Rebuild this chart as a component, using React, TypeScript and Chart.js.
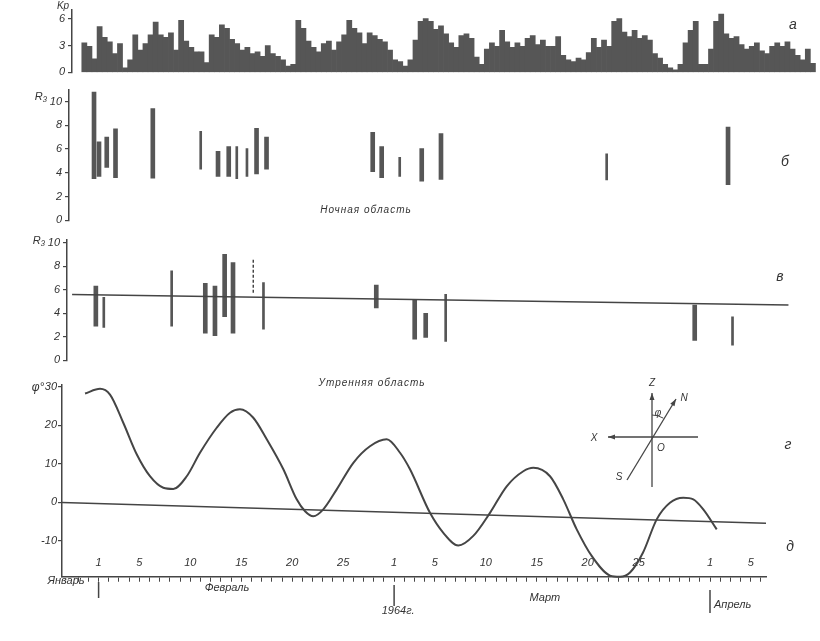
import React, { useEffect, useRef } from "react";
import { Chart, registerables } from "chart.js";

Chart.register(...registerables);

// ---------------- data ----------------
// day index: 0 = 1 February 1964
const kpStartDay = -1.4;
const kpStepDays = 0.5;
const kpValues = [
  3.3, 2.9, 1.5, 5.1, 3.9, 3.4, 2.1, 3.2, 0.5, 1.4,
  4.2, 2.5, 3.2, 4.2, 5.6, 4.2, 3.9, 4.4, 2.5, 5.8,
  3.5, 2.8, 2.3, 2.3, 1.1, 4.2, 3.9, 5.3, 4.9, 3.7,
  3.2, 2.5, 2.8, 2.1, 2.3, 1.8, 3.0, 2.1, 1.8, 1.4,
  0.7, 0.9, 5.8, 4.9, 3.5, 2.8, 2.3, 3.2, 3.5, 2.5,
  3.4, 4.2, 5.8, 4.9, 4.4, 3.2, 4.4, 4.1, 3.7, 3.4,
  2.5, 1.4, 1.2, 0.7,
  1.4, 3.6, 5.7, 6.0, 5.7, 4.8, 5.2, 4.3, 3.3, 2.8,
  4.1, 4.3, 3.8, 1.7, 0.9, 2.6, 3.3, 2.9, 4.7, 3.4,
  2.8, 3.3, 2.9, 3.8, 4.1, 3.1, 3.6, 2.9, 2.9, 4.0,
  1.9, 1.4, 1.2, 1.6, 1.4, 2.2, 3.8, 2.8, 3.6, 2.9,
  5.7, 6.0, 4.5, 4.0, 4.7, 3.8, 4.1, 3.6, 2.1, 1.6,
  0.9, 0.5, 0.3, 0.9, 3.3, 4.7, 5.7, 0.9, 0.9, 2.6,
  5.7, 6.5, 4.3, 3.8, 4.0, 3.1, 2.6, 2.9, 3.3, 2.4,
  2.1, 2.9, 3.3, 2.9, 3.4, 2.6, 1.9, 1.4, 2.6, 1.0,
];

// panel б — night region (R3 ranges)
const nightWideDays = [-0.45, 0.04, 0.8, 1.66, 5.32, 11.72, 12.77, 15.5, 16.48, 26.9, 27.78, 31.71, 33.6, 61.77];
const nightWideLow = [3.5, 3.7, 4.45, 3.6, 3.55, 3.7, 3.7, 3.9, 4.3, 4.1, 3.6, 3.3, 3.45, 3.0];
const nightWideHigh = [10.8, 6.6, 7.0, 7.7, 9.4, 5.8, 6.2, 7.75, 7.0, 7.4, 6.2, 6.05, 7.3, 7.85];
const nightNarrowDays = [10.02, 13.56, 14.56, 29.55, 49.86];
const nightNarrowLow = [4.3, 3.5, 3.7, 3.7, 3.4];
const nightNarrowHigh = [7.5, 6.2, 6.05, 5.3, 5.6];

// panel в — morning region (R3 ranges)
const morningWideDays = [-0.27, 10.47, 11.42, 12.37, 13.19, 27.25, 31.02, 32.1, 58.5];
const morningWideLow = [2.9, 2.3, 2.1, 3.7, 2.3, 4.45, 1.8, 1.95, 1.7];
const morningWideHigh = [6.3, 6.55, 6.3, 9.0, 8.3, 6.4, 5.15, 4.0, 4.7];
const morningNarrowDays = [0.51, 7.17, 16.18, 34.06, 62.21];
const morningNarrowLow = [2.8, 2.9, 2.65, 1.6, 1.3];
const morningNarrowHigh = [5.35, 7.6, 6.6, 5.6, 3.7];
const morningDashedDays = [15.18, 15.18];
const morningDashedValues = [5.75, 8.6];
const morningBaseDays = [-2.6, 67.7];
const morningBaseValues = [5.6, 4.7];

// panel г — angle phi
const phiDays = [
  -1.33, 0.14, 1.12, 2.42, 3.74, 5.04, 6.35, 7.33, 8.65, 9.95, 11.59, 12.9, 13.87, 15.18,
  16.5, 18.13, 19.44, 20.26, 21.07, 22.05, 23.37, 25, 26.63, 28.27, 29.58, 30.56, 32.52,
  33.83, 35.3, 36.77, 38.41, 40.05, 41.68, 42.66, 44.3, 45.6, 46.92, 48.39, 50.19, 51.17,
  52.15, 53.43, 54.77, 56.07, 57.38, 58.36, 59.34, 60.66,
];
const phiValues = [
  28.3, 29.5, 28, 20.7, 12.5, 6.8, 3.8, 3.5, 6.8, 12.9, 19.4, 23.3, 24.2, 22,
  16.4, 8.6, 0.8, -2.3, -3.6, -1.8, 3.4, 10.3, 14.6, 16.4, 12.9, 8.6, -2.7,
  -7.9, -11.2, -8.7, -2.7, 4.2, 8.1, 9.0, 6.8, 0.8, -7.0, -13.9, -19.0, -19.3,
  -18.2, -13, -4.4, -0.1, 1.2, 0.8, -1.8, -7,
];
const phiTrendDays = [-3.6, 65.5];
const phiTrendValues = [0, -5.4];

// axis ticks
const kpTicks = [0, 3, 6];
const r3Ticks = [0, 2, 4, 6, 8, 10];
const phiTicks = [-10, 0, 10, 20, 30];
const xTickDays = [0, 4, 9, 14, 19, 24, 29, 33, 38, 43, 48, 53, 60, 64];
const xTickLabels = ["1", "5", "10", "15", "20", "25", "1", "5", "10", "15", "20", "25", "1", "5"];
const xMinorFirstDay = -2;
const xMinorLastDay = 65;
const monthNames = ["Январь", "Февраль", "1964г.", "Март", "Апрель"];
const monthLabelDays = [-3.2, 12.6, 29.4, 43.8, 61.8];
const monthBoundaryDays = [0, 29, 60];

// ---------------- layout / style ----------------
const W = 820;
const DAY0_PX = 98.6;
const PX_PER_DAY = 10.19;
const dayAt = (px: number) => (px - DAY0_PX) / PX_PER_DAY;
const INK = "#454545";
const BAR = "#565656";
const FONT = "'Liberation Sans', 'DejaVu Sans', sans-serif";

type TextItem = { t: string; x: number; y: number; size?: number; align?: CanvasTextAlign; spacing?: number };

function textPlugin(panelTop: number, items: TextItem[], extra?: (ctx: CanvasRenderingContext2D, chart: any) => void) {
  return {
    id: "texts" + panelTop,
    afterDraw(chart: any) {
      const ctx: CanvasRenderingContext2D = chart.ctx;
      ctx.save();
      ctx.fillStyle = "#333";
      ctx.textBaseline = "middle";
      for (const it of items) {
        ctx.font = `italic ${it.size ?? 11}px ${FONT}`;
        ctx.textAlign = it.align ?? "center";
        (ctx as any).letterSpacing = `${it.spacing ?? 0}px`;
        ctx.fillText(it.t, it.x, it.y - panelTop);
      }
      (ctx as any).letterSpacing = "0px";
      if (extra) extra(ctx, chart);
      ctx.restore();
    },
  };
}

function yAxis(left: number, min: number, max: number, ticks: number[], pad = 2) {
  return {
    type: "linear",
    min,
    max,
    afterFit: (s: any) => {
      s.width = left;
    },
    afterBuildTicks: (s: any) => {
      s.ticks = ticks.map((v) => ({ value: v }));
    },
    grid: { drawOnChartArea: false, drawTicks: true, tickLength: 4, color: INK, lineWidth: 1.2 },
    border: { display: true, color: INK, width: 1.5 },
    ticks: { color: "#333", autoSkip: false, padding: pad, font: { family: FONT, size: 11, style: "italic" } },
  };
}

function hiddenX(left: number, right: number) {
  return { type: "linear", min: dayAt(left), max: dayAt(right), display: false, offset: false };
}

function baseOptions(panelTop: number, height: number, left: number, right: number, chartTop: number, chartBottom: number, bottomExtra = 0) {
  return {
    animation: false,
    responsive: false,
    events: [],
    layout: {
      padding: { left: 0, right: W - right, top: chartTop - panelTop, bottom: panelTop + height - chartBottom - bottomExtra },
    },
    plugins: { legend: { display: false }, tooltip: { enabled: false }, title: { display: false } },
  };
}

function rangeBars(days: number[], low: number[], high: number[], thickness: number) {
  return {
    type: "bar",
    data: days.map((d, i) => ({ x: d, y: [low[i], high[i]] })),
    backgroundColor: BAR,
    borderWidth: 0,
    barThickness: thickness,
    grouped: false,
  };
}

function lineSet(days: number[], values: number[], width: number, dash: number[] = []) {
  return {
    type: "line",
    data: days.map((d, i) => ({ x: d, y: values[i] })),
    borderColor: INK,
    borderWidth: width,
    borderDash: dash,
    pointRadius: 0,
    fill: false,
    tension: 0,
  };
}

// ---------------- panels ----------------
function makeKp(top: number, height: number) {
  const L = 72, R = 817, cTop = 8, cBot = 73;
  return {
    type: "bar",
    data: {
      datasets: [
        {
          data: kpValues.map((v, i) => ({ x: kpStartDay + i * kpStepDays, y: v })),
          backgroundColor: BAR,
          borderWidth: 0,
          barPercentage: 1,
          categoryPercentage: 1,
          grouped: false,
        },
      ],
    },
    options: {
      ...baseOptions(top, height, L, R, cTop, cBot),
      scales: { x: hiddenX(L, R), y: yAxis(L, 0, 7, kpTicks, 3) },
    },
    plugins: [
      textPlugin(top, [
        { t: "Kp", x: 63, y: 6, size: 10 },
        { t: "а", x: 793, y: 25, size: 14 },
      ]),
    ],
  };
}

function makeNight(top: number, height: number) {
  const L = 69, R = 817, cBot = 222.5, cTop = 222.5 - 11 * 12.7;
  return {
    type: "bar",
    data: {
      datasets: [
        rangeBars(nightWideDays, nightWideLow, nightWideHigh, 4),
        rangeBars(nightNarrowDays, nightNarrowLow, nightNarrowHigh, 2),
      ],
    },
    options: {
      ...baseOptions(top, height, L, R, cTop, cBot),
      scales: { x: hiddenX(L, R), y: yAxis(L, 0, 11, r3Ticks, 3) },
    },
    plugins: [
      textPlugin(top, [
        { t: "R₃", x: 41, y: 97, size: 11 },
        { t: "б", x: 785, y: 162, size: 14 },
        { t: "Ночная область", x: 366, y: 210, size: 10, spacing: 1 },
      ]),
    ],
  };
}

function makeMorning(top: number, height: number) {
  const L = 67, R = 817, cBot = 362.5, cTop = 362.5 - 10.25 * 12.33;
  return {
    type: "bar",
    data: {
      datasets: [
        lineSet(morningBaseDays, morningBaseValues, 1.5),
        lineSet(morningDashedDays, morningDashedValues, 1.5, [3, 2]),
        rangeBars(morningWideDays, morningWideLow, morningWideHigh, 4),
        rangeBars(morningNarrowDays, morningNarrowLow, morningNarrowHigh, 2),
      ],
    },
    options: {
      ...baseOptions(top, height, L, R, cTop, cBot),
      scales: { x: hiddenX(L, R), y: yAxis(L, 0, 10.25, r3Ticks, 3) },
    },
    plugins: [
      textPlugin(top, [
        { t: "R₃", x: 39, y: 241, size: 11 },
        { t: "в", x: 780, y: 277, size: 14 },
      ]),
    ],
  };
}

function arrow(ctx: CanvasRenderingContext2D, x1: number, y1: number, x2: number, y2: number) {
  ctx.beginPath();
  ctx.moveTo(x1, y1);
  ctx.lineTo(x2, y2);
  ctx.stroke();
  const a = Math.atan2(y2 - y1, x2 - x1);
  const h = 7, w = 2.5;
  ctx.beginPath();
  ctx.moveTo(x2, y2);
  ctx.lineTo(x2 - h * Math.cos(a) + w * Math.sin(a), y2 - h * Math.sin(a) - w * Math.cos(a));
  ctx.lineTo(x2 - h * Math.cos(a) - w * Math.sin(a), y2 - h * Math.sin(a) + w * Math.cos(a));
  ctx.closePath();
  ctx.fill();
}

function makePhi(top: number, height: number) {
  const L = 62, R = 766, cTop = 385, unit = 3.85;
  const yMax = 30.5, yMin = -19.3;
  const cBot = cTop + (yMax - yMin) * unit;
  const xAxisH = 30;
  const minorDays: number[] = [];
  for (let d = xMinorFirstDay; d <= xMinorLastDay; d++) minorDays.push(d);
  return {
    type: "line",
    data: {
      datasets: [
        { ...lineSet(phiTrendDays, phiTrendValues, 1.5) },
        {
          ...lineSet(phiDays, phiValues, 2),
          cubicInterpolationMode: "monotone",
          clip: false,
        },
      ],
    },
    options: {
      ...baseOptions(top, height, L, R, cTop, cBot, xAxisH),
      scales: {
        x: {
          type: "linear",
          min: dayAt(L),
          max: dayAt(R),
          offset: false,
          afterFit: (s: any) => {
            s.height = xAxisH;
          },
          afterBuildTicks: (s: any) => {
            s.ticks = minorDays.map((v) => ({ value: v }));
          },
          grid: { drawOnChartArea: false, drawTicks: true, tickLength: 5, color: INK, lineWidth: 1 },
          border: { display: true, color: INK, width: 1.5 },
          ticks: {
            autoSkip: false,
            maxRotation: 0,
            mirror: true,
            padding: 7,
            color: "#333",
            font: { family: FONT, size: 11, style: "italic" },
            callback: (v: number) => {
              const i = xTickDays.indexOf(v);
              return i >= 0 ? xTickLabels[i] : "";
            },
          },
        },
        y: yAxis(L, yMin, yMax, phiTicks, 1),
      },
    },
    plugins: [
      textPlugin(
        top,
        [
          { t: "φ°", x: 38, y: 388, size: 12 },
          { t: "Утренняя область", x: 372, y: 383, size: 10, spacing: 1 },
          { t: "г", x: 788, y: 445, size: 14 },
          { t: "д", x: 790, y: 547, size: 14 },
          { t: "Z", x: 652, y: 383, size: 10 },
          { t: "N", x: 684, y: 398, size: 10 },
          { t: "X", x: 594, y: 438, size: 10 },
          { t: "S", x: 619, y: 477, size: 10 },
          { t: "O", x: 661, y: 448, size: 10 },
          { t: "φ", x: 658, y: 413, size: 10 },
        ],
        (ctx, chart) => {
          const xs = chart.scales.x;
          // month names and boundaries
          ctx.font = `italic 11px ${FONT}`;
          ctx.fillStyle = "#333";
          const monthY = [581, 588, 611, 598, 605];
          monthNames.forEach((m, i) => {
            ctx.textAlign = i === 4 ? "left" : "center";
            const px = i === 4 ? xs.getPixelForValue(monthBoundaryDays[2]) + 4 : xs.getPixelForValue(monthLabelDays[i]);
            ctx.fillText(m, px, monthY[i] - top);
          });
          ctx.strokeStyle = INK;
          ctx.lineWidth = 1.5;
          const markTop = [582, 585, 590];
          const markBot = [598, 606, 613];
          monthBoundaryDays.forEach((d, i) => {
            const px = xs.getPixelForValue(d);
            ctx.beginPath();
            ctx.moveTo(px, markTop[i] - top);
            ctx.lineTo(px, markBot[i] - top);
            ctx.stroke();
          });
          // coordinate sketch
          const ox = 652, oy = 437 - top;
          ctx.fillStyle = INK;
          ctx.lineWidth = 1.3;
          ctx.beginPath();
          ctx.moveTo(ox, 487 - top);
          ctx.lineTo(ox, oy);
          ctx.stroke();
          arrow(ctx, ox, oy, ox, 393 - top);
          ctx.beginPath();
          ctx.moveTo(698, oy);
          ctx.lineTo(ox, oy);
          ctx.stroke();
          arrow(ctx, ox, oy, 608, oy);
          arrow(ctx, 627, 480 - top, 676, 399 - top);
          ctx.lineWidth = 1;
          ctx.beginPath();
          ctx.arc(ox, oy, 22, -Math.PI / 2, Math.atan2(-80, 48.3));
          ctx.stroke();
        }
      ),
    ],
  };
}

function Panel({ top, height, make }: { top: number; height: number; make: (t: number, h: number) => any }) {
  const ref = useRef<HTMLCanvasElement | null>(null);
  useEffect(() => {
    if (!ref.current) return;
    const chart = new Chart(ref.current, make(top, height));
    return () => chart.destroy();
  }, []);
  return (
    <canvas
      ref={ref}
      width={W}
      height={height}
      style={{ position: "absolute", left: 0, top, width: W, height, display: "block" }}
    />
  );
}

export default function App() {
  return (
    <div style={{ position: "absolute", left: 0, top: 0, width: W, height: 641, background: "#fff", overflow: "hidden" }}>
      <Panel top={0} height={82} make={makeKp} />
      <Panel top={80} height={150} make={makeNight} />
      <Panel top={230} height={140} make={makeMorning} />
      <Panel top={370} height={271} make={makePhi} />
    </div>
  );
}
